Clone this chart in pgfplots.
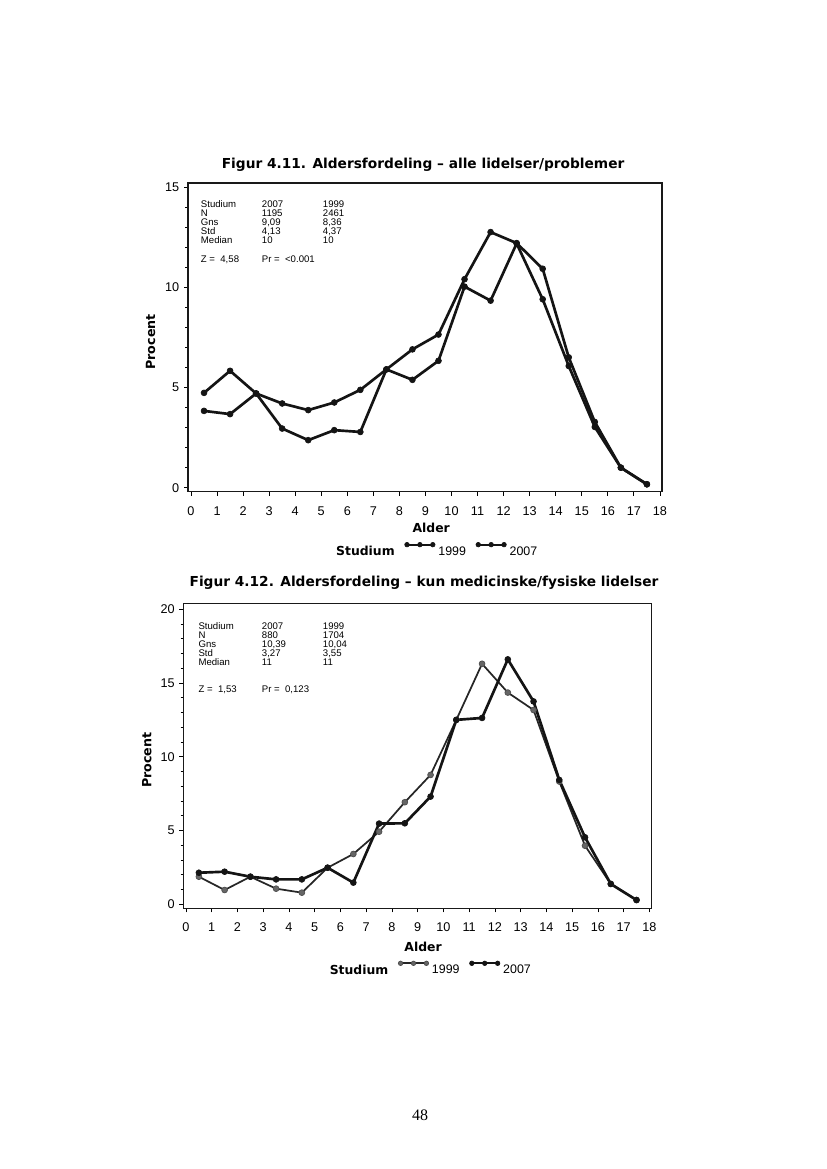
\documentclass[border=0pt]{standalone}
\usepackage{fontspec}
\setmainfont{Liberation Sans}
\newfontfamily\verd{DejaVu Sans}
\newfontfamily\tnr{Liberation Serif}
\usepackage{pgfplots}
\pgfplotsset{compat=1.18}
\usepackage{pgfplotstable}

% Figur 4.11 : alle lidelser/problemer
\pgfplotstableread{
x    y1999  y2007
0.5  4.73   3.83
1.5  5.83   3.67
2.5  4.70   4.70
3.5  2.95   4.20
4.5  2.37   3.87
5.5  2.87   4.25
6.5  2.78   4.88
7.5  5.90   5.90
8.5  5.38   6.90
9.5  6.33   7.64
10.5 10.03  10.40
11.5 9.33   12.75
12.5 12.18  12.20
13.5 9.40   10.92
14.5 6.07   6.50
15.5 3.03   3.28
16.5 1.00   1.00
17.5 0.17   0.17
}\dataA

% Figur 4.12 : kun medicinske/fysiske lidelser
\pgfplotstableread{
x    y1999  y2007
0.5  1.87   2.14
1.5  0.97   2.21
2.5  1.87   1.87
3.5  1.06   1.69
4.5  0.79   1.69
5.5  2.48   2.48
6.5  3.41   1.47
7.5  4.92   5.47
8.5  6.92   5.49
9.5  8.77   7.30
10.5 12.50  12.50
11.5 16.30  12.63
12.5 14.35  16.60
13.5 13.17  13.75
14.5 8.32   8.43
15.5 3.97   4.54
16.5 1.38   1.38
17.5 0.29   0.29
}\dataB

\pgfplotsset{
  every axis title shift=0pt,
  chart/.style={
    scale only axis,
    axis line style={line width=0.9pt, black!90},
    tick align=outside,
    xtick pos=bottom, ytick pos=left,
    xtick={0,...,18},
    minor y tick num=4,
    major tick length=3pt, minor tick length=2pt,
    every tick/.style={line width=0.6pt, black},
    ticklabel style={font=\fontsize{9.5}{10}\selectfont},
    xticklabel style={yshift=-4.5pt},
    /pgf/number format/assume math mode=true,
    title style={font=\verd\bfseries\fontsize{10.3}{12}\selectfont, anchor=center},
    xlabel style={font=\verd\bfseries\fontsize{9.3}{10}\selectfont, anchor=center},
    ylabel style={font=\verd\bfseries\fontsize{9.5}{10}\selectfont, anchor=center},
    legend style={draw=none, fill=none, inner sep=0pt, anchor=west,
      font=\fontsize{9.3}{10}\selectfont, legend columns=3,
      nodes={inner xsep=1.5pt, inner ysep=1pt},
      /tikz/every odd column/.append style={column sep=1pt},
      /tikz/every even column/.append style={column sep=6pt}},
    legend cell align=left,
  },
  thickline/.style={line width=2pt, black!92, mark=*, mark size=2.2pt,
    mark options={fill=black!92, draw=black!92, line width=0.5pt}},
  thinline/.style={line width=1.3pt, black!85, mark=*, mark size=2.2pt,
    mark options={fill=black!60, draw=black!70, line width=0.5pt}},
}

\begin{document}
\begin{tikzpicture}
\path[use as bounding box] (0,0) rectangle (619.5pt,876.75pt);

% ---------- Chart 1 ----------
\begin{axis}[chart,
  at={(141pt,507.975pt)}, anchor=south west,
  width=355.5pt, height=231.525pt,
  xmin=-0.115, xmax=18.08, ymin=-0.2, ymax=15.2,
  ytick={0,5,10,15},
  title={Figur 4.11. Aldersfordeling – alle lidelser/problemer},
  title style={at={(0.496,1.058)}},
  xlabel={Alder}, xlabel style={at={(0.513,-0.118)}},
  ylabel={Procent}, ylabel style={at={(-0.079,0.485)}},
  legend style={at={(0.305,-0.191)}},
  legend image code/.code={\draw[#1, line width=1.3pt, mark size=1.7pt] plot coordinates {(0mm,1.9mm)(3.4mm,1.9mm)(6.8mm,1.9mm)};},
]
\addlegendimage{empty legend}
\addlegendentry{\verd\bfseries\fontsize{9.3}{10}\selectfont Studium\hspace{6pt}}
\addplot[thickline] table[x=x, y=y1999] {\dataA};
\addlegendentry{1999}
\addplot[thickline] table[x=x, y=y2007] {\dataA};
\addlegendentry{2007}
\end{axis}

\begin{scope}[font=\fontsize{7.2}{7.5}\selectfont]
\node[anchor=base west, inner sep=0pt] at (150.5pt,720.98pt) {Studium};
\node[anchor=base west, inner sep=0pt] at (196.25pt,720.98pt) {2007};
\node[anchor=base west, inner sep=0pt] at (242pt,720.98pt) {1999};
\node[anchor=base west, inner sep=0pt] at (150.5pt,714.23pt) {N};
\node[anchor=base west, inner sep=0pt] at (196.25pt,714.23pt) {1195};
\node[anchor=base west, inner sep=0pt] at (242pt,714.23pt) {2461};
\node[anchor=base west, inner sep=0pt] at (150.5pt,707.48pt) {Gns};
\node[anchor=base west, inner sep=0pt] at (196.25pt,707.48pt) {9,09};
\node[anchor=base west, inner sep=0pt] at (242pt,707.48pt) {8,36};
\node[anchor=base west, inner sep=0pt] at (150.5pt,700.73pt) {Std};
\node[anchor=base west, inner sep=0pt] at (196.25pt,700.73pt) {4,13};
\node[anchor=base west, inner sep=0pt] at (242pt,700.73pt) {4,37};
\node[anchor=base west, inner sep=0pt] at (150.5pt,693.98pt) {Median};
\node[anchor=base west, inner sep=0pt] at (196.25pt,693.98pt) {10};
\node[anchor=base west, inner sep=0pt] at (242pt,693.98pt) {10};
\node[anchor=base west, inner sep=0pt] at (150.5pt,679.95pt) {Z =\ \ 4,58};
\node[anchor=base west, inner sep=0pt] at (196.25pt,679.95pt) {Pr =\ \ {<}0.001};
\end{scope}

% ---------- Chart 2 ----------
\begin{axis}[chart,
  at={(137.475pt,195.525pt)}, anchor=south west,
  width=351.3pt, height=228.75pt,
  xmin=-0.105, xmax=18.09, ymin=-0.27, ymax=20.4,
  ytick={0,5,10,15,20},
  title={Figur 4.12. Aldersfordeling – kun medicinske/fysiske lidelser},
  title style={at={(0.514,1.067)}},
  xlabel={Alder}, xlabel style={at={(0.512,-0.126)}},
  ylabel={Procent}, ylabel style={at={(-0.078,0.486)}},
  legend style={at={(0.305,-0.200)}},
  legend image code/.code={\draw[#1, line width=1.3pt, mark size=1.7pt] plot coordinates {(0mm,1.9mm)(3.4mm,1.9mm)(6.8mm,1.9mm)};},
]
\addlegendimage{empty legend}
\addlegendentry{\verd\bfseries\fontsize{9.3}{10}\selectfont Studium\hspace{6pt}}
\addplot[thinline] table[x=x, y=y1999] {\dataB};
\addlegendentry{1999}
\addplot[thickline] table[x=x, y=y2007] {\dataB};
\addlegendentry{2007}
\end{axis}

\begin{scope}[font=\fontsize{7.2}{7.5}\selectfont]
\node[anchor=base west, inner sep=0pt] at (148.7pt,404.7pt) {Studium};
\node[anchor=base west, inner sep=0pt] at (196.25pt,404.7pt) {2007};
\node[anchor=base west, inner sep=0pt] at (242pt,404.7pt) {1999};
\node[anchor=base west, inner sep=0pt] at (148.7pt,397.95pt) {N};
\node[anchor=base west, inner sep=0pt] at (196.25pt,397.95pt) {880};
\node[anchor=base west, inner sep=0pt] at (242pt,397.95pt) {1704};
\node[anchor=base west, inner sep=0pt] at (148.7pt,391.2pt) {Gns};
\node[anchor=base west, inner sep=0pt] at (196.25pt,391.2pt) {10,39};
\node[anchor=base west, inner sep=0pt] at (242pt,391.2pt) {10,04};
\node[anchor=base west, inner sep=0pt] at (148.7pt,384.45pt) {Std};
\node[anchor=base west, inner sep=0pt] at (196.25pt,384.45pt) {3,27};
\node[anchor=base west, inner sep=0pt] at (242pt,384.45pt) {3,55};
\node[anchor=base west, inner sep=0pt] at (148.7pt,377.7pt) {Median};
\node[anchor=base west, inner sep=0pt] at (196.25pt,377.7pt) {11};
\node[anchor=base west, inner sep=0pt] at (242pt,377.7pt) {11};
\node[anchor=base west, inner sep=0pt] at (148.7pt,357.45pt) {Z =\ \ 1,53};
\node[anchor=base west, inner sep=0pt] at (196.25pt,357.45pt) {Pr =\ \ 0,123};
\end{scope}

% page number
\node[font=\tnr\fontsize{12}{14}\selectfont] at (315pt,40.5pt) {48};
\end{tikzpicture}
\end{document}
